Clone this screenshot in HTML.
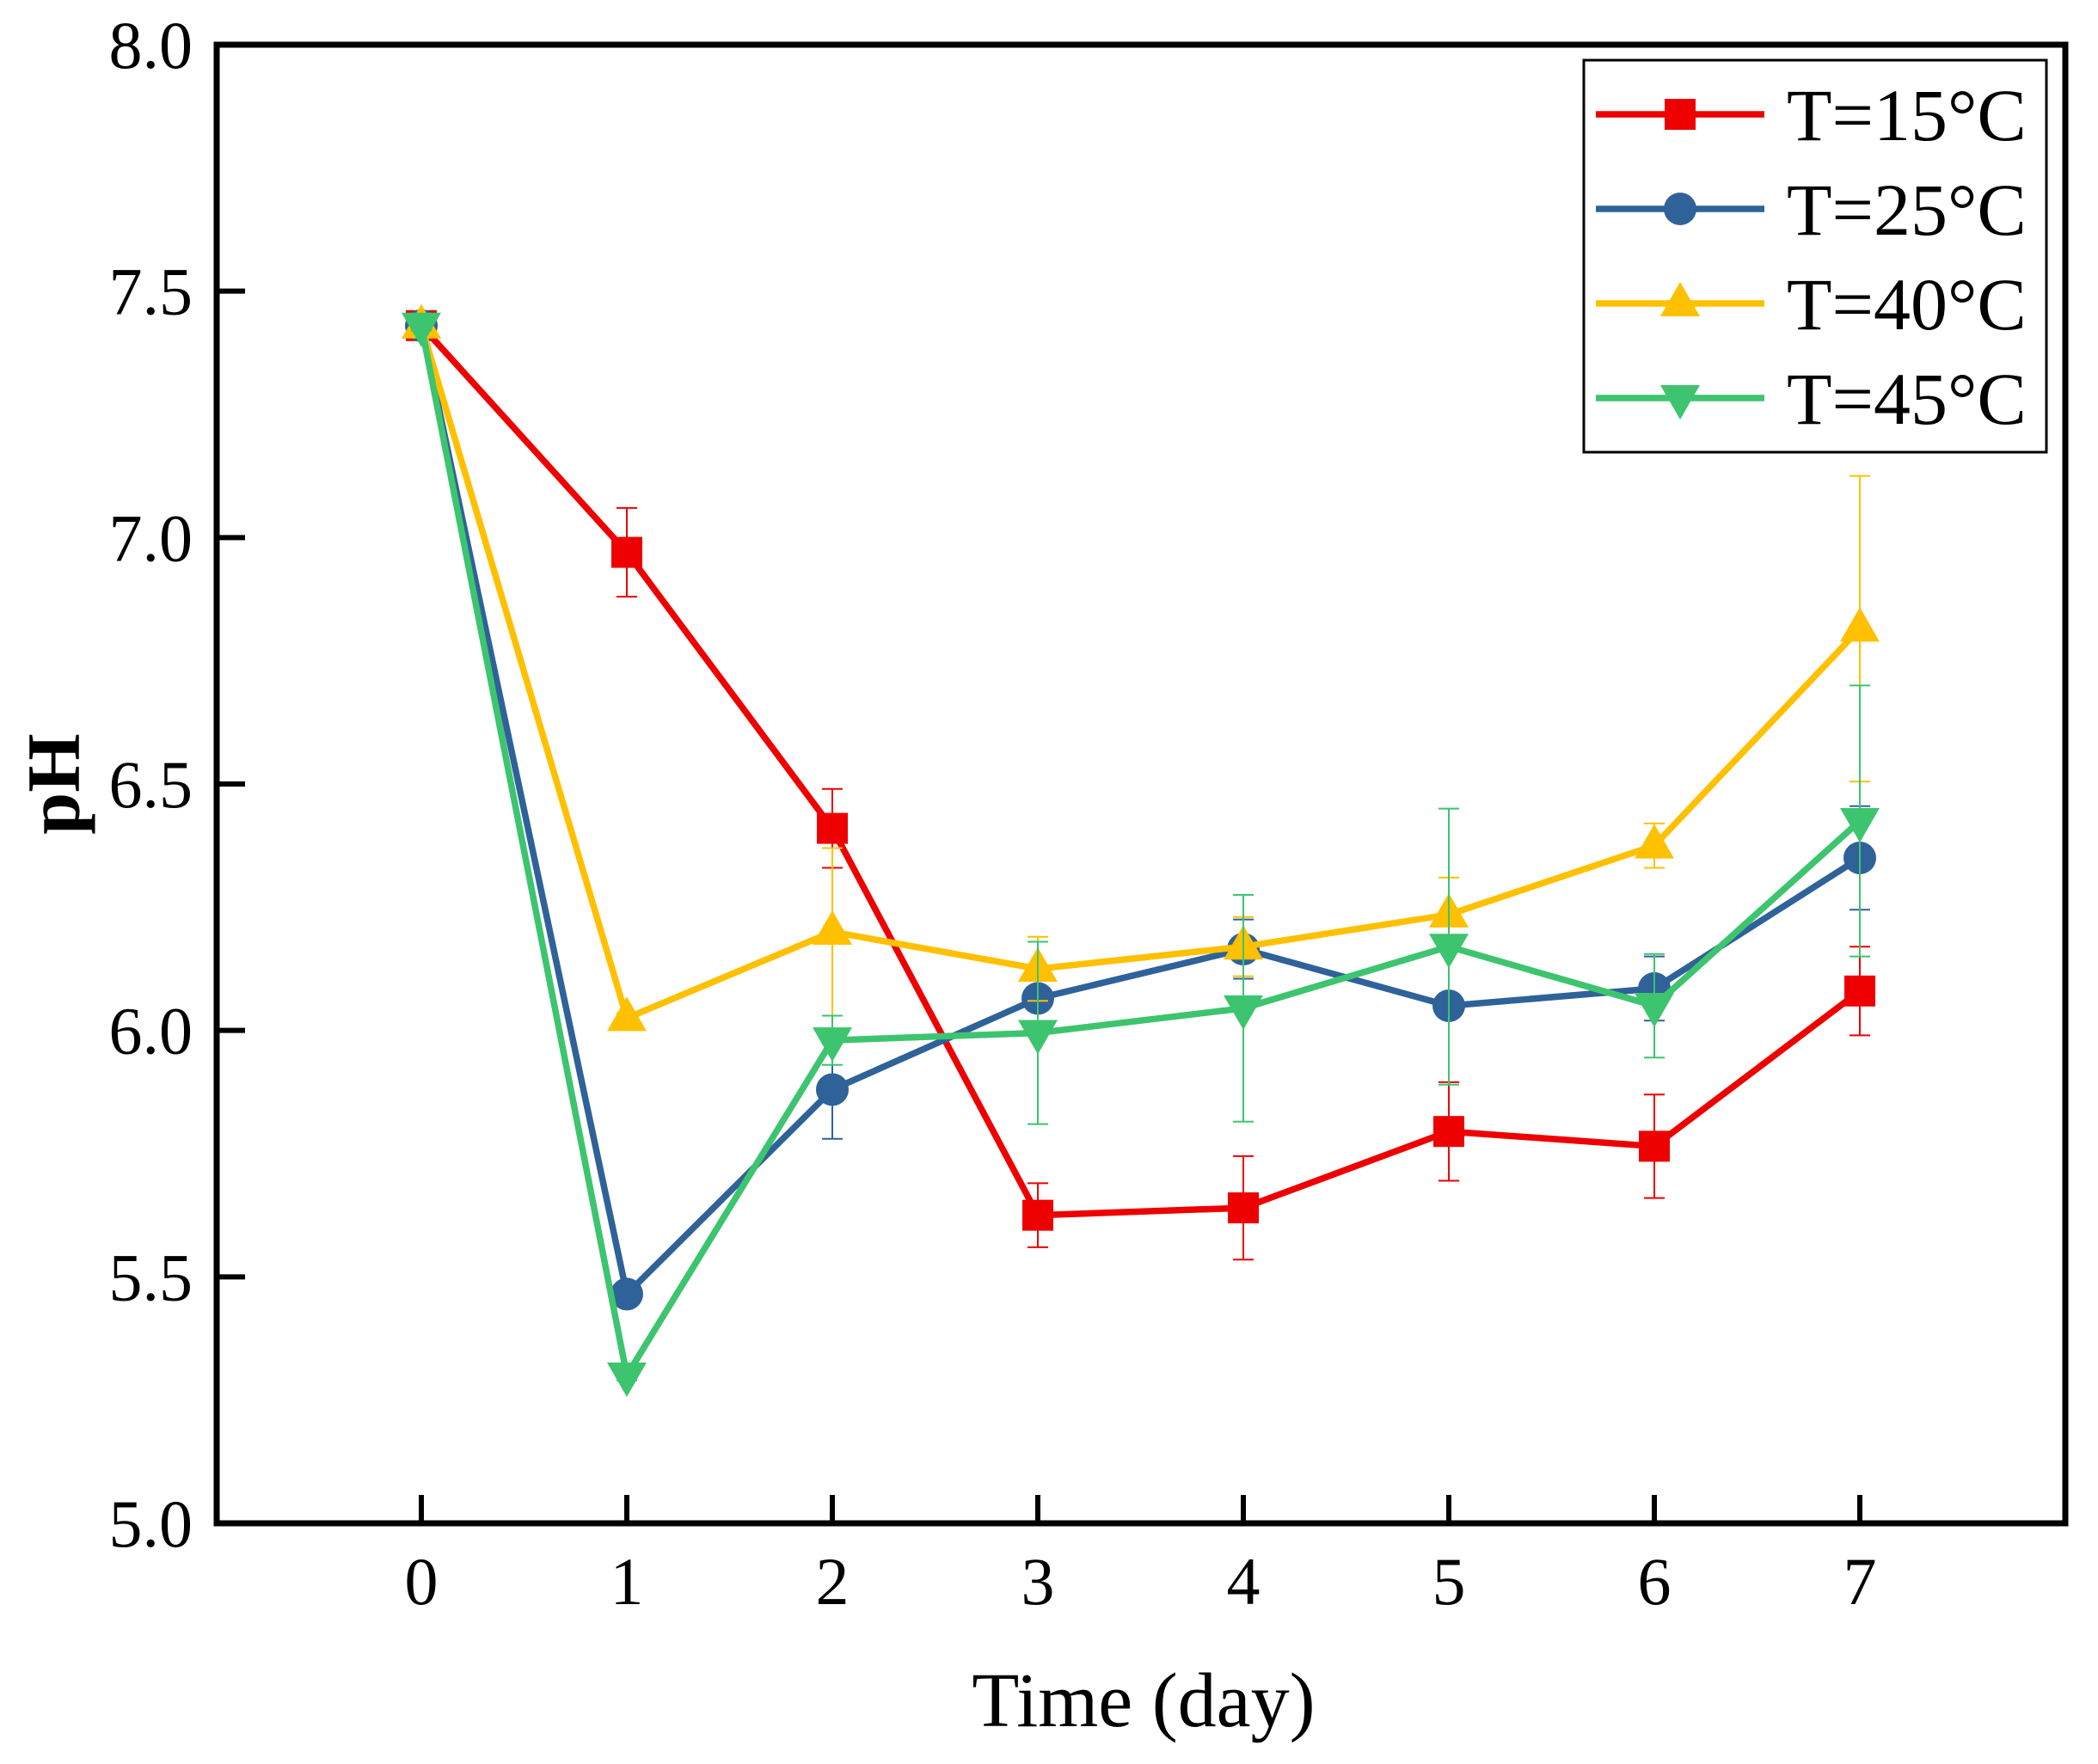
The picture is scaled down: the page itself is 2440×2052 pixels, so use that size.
<!DOCTYPE html>
<html><head><meta charset="utf-8"><style>
html,body{margin:0;padding:0;background:#fff;}
svg{display:block;font-family:"Liberation Serif",serif;}
</style></head><body>
<svg id="chart" width="2440" height="2052" viewBox="0 0 2440 2052" xmlns="http://www.w3.org/2000/svg">
<g id="series"></g>
<g id="axes"></g>
<g id="legend"></g>
</svg>
<script>
const days = [0,1,2,3,4,5,6,7];
const yTicks = [5.0,5.5,6.0,6.5,7.0,7.5,8.0];
const yTickLabels = ["5.0","5.5","6.0","6.5","7.0","7.5","8.0"];
const seriesNames = ["T=15°C","T=25°C","T=40°C","T=45°C"];
const ph15 = [7.43,6.97,6.41,5.625,5.64,5.795,5.765,6.08];
const err15 = [0.01,0.09,0.08,0.065,0.105,0.10,0.105,0.09];
const ph25 = [7.43,5.465,5.88,6.065,6.165,6.05,6.085,6.35];
const err25 = [0.01,0.01,0.10,0.06,0.06,0.01,0.065,0.105];
const ph40 = [7.43,6.025,6.20,6.125,6.17,6.235,6.375,6.815];
const err40 = [0.01,0.01,0.17,0.065,0.06,0.075,0.045,0.31];
const ph45 = [7.43,5.30,5.98,5.995,6.045,6.17,6.05,6.425];
const err45 = [0.01,0.01,0.05,0.185,0.23,0.28,0.105,0.275];

const NS="http://www.w3.org/2000/svg";
const L=252,R=2402,T=52,B=1772,X0=490,XSTEP=239;
function xs(d){return X0+d*XSTEP;}
function ys(v){return B-(v-5.0)/(8.0-5.0)*(B-T);}
function mk(tag,attrs,parent){const e=document.createElementNS(NS,tag);for(const k in attrs)e.setAttribute(k,attrs[k]);parent.appendChild(e);return e;}
const gS=document.getElementById('series'),gA=document.getElementById('axes'),gL=document.getElementById('legend');

function marker(type,cx,cy,color,parent){
  let e;
  if(type==='square'){e=mk('rect',{x:cx-18,y:cy-18,width:36,height:36,fill:color},parent);}
  else if(type==='circle'){e=mk('circle',{cx:cx,cy:cy,r:19,fill:color},parent);}
  else if(type==='up'){e=mk('polygon',{points:`${cx},${cy-25} ${cx-23},${cy+15} ${cx+23},${cy+15}`,fill:color},parent);}
  else {e=mk('polygon',{points:`${cx},${cy+25} ${cx-23},${cy-15} ${cx+23},${cy-15}`,fill:color},parent);}
  return e;
}
const defs=[
 {vals:ph15,errs:err15,color:'#ee0000',m:'square',key:'15c'},
 {vals:ph25,errs:err25,color:'#2f6299',m:'circle',key:'25c'},
 {vals:ph40,errs:err40,color:'#ffc000',m:'up',key:'40c'},
 {vals:ph45,errs:err45,color:'#3dc46f',m:'down',key:'45c'}
];
defs.forEach((s,si)=>{
  const g=mk('g',{},gS);
  
  
  days.forEach((d,i)=>{
    const x=xs(d),hi=ys(s.vals[i]+s.errs[i]),lo=ys(s.vals[i]-s.errs[i]);
    const eb=mk('path',{d:`M${x},${hi}V${lo}M${x-12},${hi}H${x+12}M${x-12},${lo}H${x+12}`,stroke:s.color,'stroke-width':2,fill:'none'},g);
    
    
  });
  const pl=mk('polyline',{points:days.map((d,i)=>xs(d)+','+ys(s.vals[i])).join(' '),fill:'none',stroke:s.color,'stroke-width':7.5,'stroke-linejoin':'round'},g);
  
  
  days.forEach((d,i)=>{
    const m=marker(s.m,xs(d),ys(s.vals[i]),s.color,g);
    
    
  });
});
const fr=mk('rect',{x:L,y:T,width:R-L,height:B-T,fill:'none',stroke:'#000','stroke-width':7},gA);


yTicks.forEach((v,i)=>{
  const y=ys(v);
  const t=mk('line',{x1:L,x2:L+33,y1:y,y2:y,stroke:'#000','stroke-width':6},gA);
  
  
  const lb=mk('text',{x:224,y:y+27,'text-anchor':'end','font-size':78},gA);
  lb.textContent=yTickLabels[i];
  
  
});
days.forEach(d=>{
  const x=xs(d);
  const t=mk('line',{x1:x,x2:x,y1:B,y2:B-33,stroke:'#000','stroke-width':6},gA);
  
  
  const lb=mk('text',{x:x,y:1866,'text-anchor':'middle','font-size':78},gA);
  lb.textContent=String(d);
  
  
});
const xt=mk('text',{x:1330,y:2008,'text-anchor':'middle','font-size':90},gA);
xt.textContent='Time (day)';


const yt=mk('text',{x:0,y:0,'text-anchor':'middle','font-size':88,'font-weight':'bold',transform:'translate(92,912) rotate(-90)'},gA);
yt.textContent='pH';


const lbox=mk('rect',{x:1842,y:70,width:538,height:456,fill:'#fff',stroke:'#000','stroke-width':3},gL);


defs.forEach((s,i)=>{
  const y=133+i*110;
  const g=mk('g',{},gL);
  
  
  mk('line',{x1:1856,x2:2052,y1:y,y2:y,stroke:s.color,'stroke-width':7.5},g);
  marker(s.m,1954,y,s.color,g);
  const tx=mk('text',{x:2078,y:y+30,'font-size':86},g);
  tx.textContent=seriesNames[i];
});
</script>
</body></html>
